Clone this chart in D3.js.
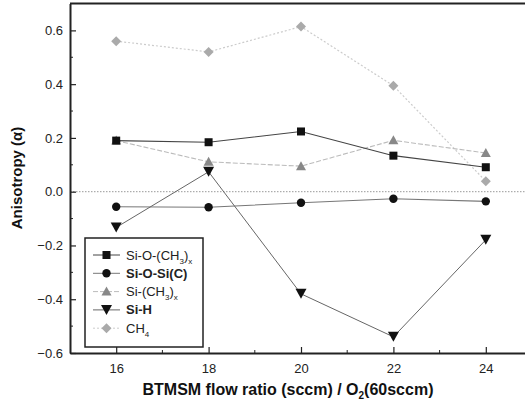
<!DOCTYPE html>
<html><head><meta charset="utf-8">
<script src="https://cdn.jsdelivr.net/npm/d3@7"></script>
<style>
html,body{margin:0;padding:0;background:#fff;}
svg{display:block;font-family:"Liberation Sans",Arial,sans-serif;}
</style></head>
<body><svg id="c" width="525" height="405"></svg>
<script>
const xValues = [16, 18, 20, 22, 24];
const siOCH3 = [0.19, 0.184, 0.224, 0.134, 0.091];
const siOSiC = [-0.056, -0.058, -0.041, -0.026, -0.036];
const siCH3 = [0.19, 0.111, 0.095, 0.191, 0.144];
const siH = [-0.133, 0.074, -0.38, -0.54, -0.179];
const ch4 = [0.56, 0.52, 0.614, 0.394, 0.039];
const yTicks = [-0.6, -0.4, -0.2, 0.0, 0.2, 0.4, 0.6];
const xTicks = [16, 18, 20, 22, 24];

const series = [
  {name:"Si-O-(CH3)x", values:siOCH3, shape:"square", fill:"#111", line:"#444", dash:null, lw:1.1, bold:false, parts:[["Si-O-(CH",""],["3","sub"],[")",""],["x","sub"]]},
  {name:"Si-O-Si(C)", values:siOSiC, shape:"circle", fill:"#111", line:"#777", dash:null, lw:1.1, bold:true, parts:[["Si-O-Si(C)",""]]},
  {name:"Si-(CH3)x", values:siCH3, shape:"triangle", fill:"#888", line:"#bbb", dash:"5,2", lw:1.1, bold:false, parts:[["Si-(CH",""],["3","sub"],[")",""],["x","sub"]]},
  {name:"Si-H", values:siH, shape:"tridown", fill:"#111", line:"#666", dash:null, lw:1, bold:true, parts:[["Si-H",""]]},
  {name:"CH4", values:ch4, shape:"diamond", fill:"#aaa", line:"#ccc", dash:"2,2", lw:1.2, bold:false, parts:[["CH",""],["4","sub"]]}
];

const svg = d3.select("#c");
const x = d3.scaleLinear().domain([15, 25]).range([70, 532]);
const y = d3.scaleLinear().domain([-0.6, 0.7]).range([353, 3.5]);

// zero dotted line
svg.append("line").attr("x1", 70).attr("x2", 525).attr("y1", y(0)).attr("y2", y(0))
  .attr("stroke", "#999").attr("stroke-width", 1).attr("stroke-dasharray", "1.5,1.5");

// axes
const yAxis = d3.axisLeft(y).tickValues(yTicks).tickFormat(d3.format(".1f")).tickSizeInner(-6).tickSizeOuter(0).tickPadding(7);
const gy = svg.append("g").attr("transform", "translate(70,0)").call(yAxis);
const yMinor = d3.range(-0.5, 0.7, 0.2);
gy.selectAll(".minor").data(yMinor).enter().append("line").attr("class","minor")
  .attr("x1", 0).attr("x2", 3).attr("y1", d=>y(d)).attr("y2", d=>y(d)).attr("stroke","#222");
const xAxis = d3.axisBottom(x).tickValues(xTicks).tickSizeInner(-6).tickSizeOuter(0).tickPadding(11);
const gx = svg.append("g").attr("transform", "translate(0,353)").call(xAxis);
const xMinor = [17, 19, 21, 23];
gx.selectAll(".minor").data(xMinor).enter().append("line").attr("class","minor")
  .attr("x1", d=>x(d)).attr("x2", d=>x(d)).attr("y1", 0).attr("y2", -3).attr("stroke","#222");
[gx, gy].forEach(g => {
  g.select(".domain").attr("stroke", "#222").attr("stroke-width", 2);
  g.selectAll(".tick line").attr("stroke", "#222").attr("stroke-width", 1.2);
  g.selectAll(".tick text").attr("font-size", 13).attr("fill", "#222").attr("font-family", "Liberation Sans, Arial, sans-serif");
});
// top frame
svg.append("line").attr("x1", 70).attr("x2", 525).attr("y1", y(0.7)).attr("y2", y(0.7)).attr("stroke", "#222").attr("stroke-width", 2);

// symbols
function drawSym(g, shape, cx, cy, fill) {
  if (shape === "square") g.append("rect").attr("x", cx-4).attr("y", cy-4).attr("width", 8).attr("height", 8).attr("fill", fill);
  else if (shape === "circle") g.append("circle").attr("cx", cx).attr("cy", cy).attr("r", 4.2).attr("fill", fill);
  else if (shape === "triangle") g.append("path").attr("d", `M${cx},${cy-5}L${cx+5},${cy+4}L${cx-5},${cy+4}Z`).attr("fill", fill);
  else if (shape === "tridown") g.append("path").attr("d", `M${cx-5.5},${cy-5}L${cx+5.5},${cy-5}L${cx},${cy+5}Z`).attr("fill", fill);
  else if (shape === "diamond") g.append("path").attr("d", `M${cx},${cy-5}L${cx+5},${cy}L${cx},${cy+5}L${cx-5},${cy}Z`).attr("fill", fill);
}

const line = d3.line().x(d => x(d[0])).y(d => y(d[1]));
const order = [4, 2, 1, 3, 0];
order.forEach(i => {
  const s = series[i];
  const pts = xValues.map((xv, j) => [xv, s.values[j]]);
  svg.append("path").attr("d", line(pts)).attr("fill", "none").attr("stroke", s.line)
    .attr("stroke-width", s.lw).attr("stroke-dasharray", s.dash);
});
order.forEach(i => {
  const s = series[i];
  const g = svg.append("g");
  xValues.forEach((xv, j) => drawSym(g, s.shape, x(xv), y(s.values[j]), s.fill));
});

// legend
const lg = svg.append("g");
lg.append("rect").attr("x", 85).attr("y", 238).attr("width", 118).attr("height", 109)
  .attr("fill", "#fff").attr("stroke", "#222").attr("stroke-width", 1.5);
const ly0 = 255, ldy = 18.3;
series.forEach((s, i) => {
  const yy = ly0 + i * ldy;
  lg.append("line").attr("x1", 93).attr("x2", 120).attr("y1", yy).attr("y2", yy)
    .attr("stroke", s.line).attr("stroke-width", 1).attr("stroke-dasharray", s.dash);
  drawSym(lg, s.shape, 106.5, yy, s.fill);
  const t = lg.append("text").attr("x", 126).attr("y", yy + 4.5).attr("font-size", 13)
    .attr("font-weight", s.bold ? "bold" : "normal").attr("fill", "#222");
  s.parts.forEach(p => {
    const ts = t.append("tspan").text(p[0]);
    if (p[1] === "sub") ts.attr("font-size", 8).attr("dy", 4);
    else if (t.selectAll("tspan").size() > 1) ts.attr("dy", -4);
  });
});

// axis titles
const xt = svg.append("text").attr("x", 288).attr("y", 395).attr("text-anchor", "middle")
  .attr("font-size", 16).attr("font-weight", "bold").attr("fill", "#111");
xt.append("tspan").text("BTMSM flow ratio (sccm) / O");
xt.append("tspan").text("2").attr("font-size", 10).attr("dy", 4);
xt.append("tspan").text("(60sccm)").attr("dy", -4);
svg.append("text").attr("transform", "translate(22,178) rotate(-90)").attr("text-anchor", "middle")
  .attr("font-size", 15).attr("font-weight", "bold").attr("fill", "#111").text("Anisotropy (α)");
</script></body></html>
